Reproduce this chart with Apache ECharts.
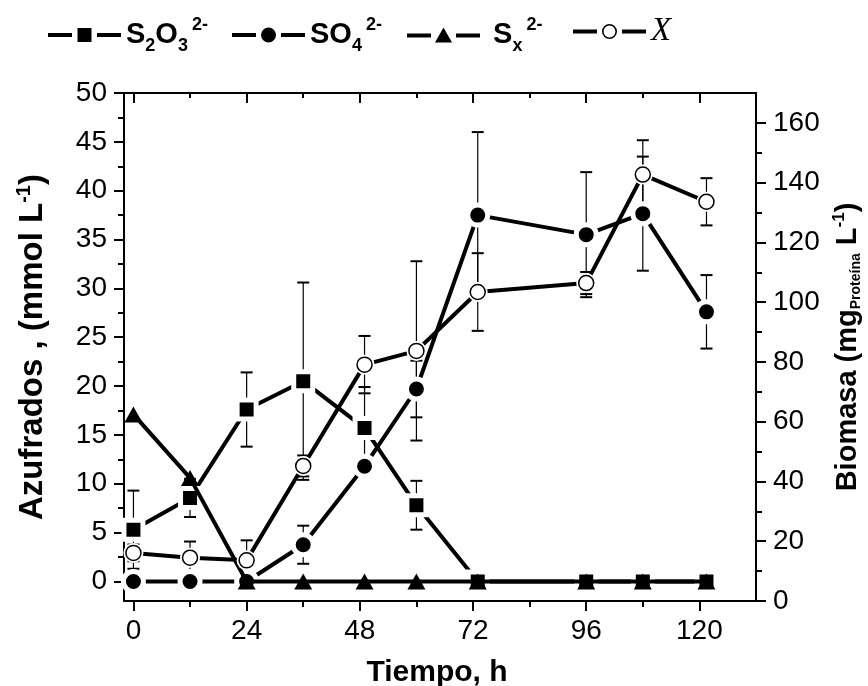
<!DOCTYPE html>
<html>
<head>
<meta charset="utf-8">
<script src="https://cdn.jsdelivr.net/npm/echarts@6/dist/echarts.min.js"></script>
<style>html,body{margin:0;padding:0;background:#fff}#c{width:868px;height:686px}</style>
</head>
<body>
<div id="c"></div>
<script>
// ---- data ----
var timeH = [0, 12, 24, 36, 49, 60, 73, 96, 108, 121.5];
var s2o3 = [5.3, 8.55, 17.6, 20.5, 15.7, 7.8, 0, 0, 0, 0];
var s2o3Err = [4.0, 1.95, 3.8, 10.1, 4.2, 2.5, 0, 0, 0, 0];
var so4 = [0, 0, 0, 3.76, 11.8, 19.7, 37.5, 35.5, 37.65, 27.6];
var so4Err = [0, 0, 0, 1.95, 0.5, 2.9, 8.5, 6.4, 5.84, 3.76];
var sx = [17.1, 10.6, 0, 0, 0, 0, 0, 0, 0, 0];
var biomasa = [16.1, 14.5, 13.6, 45.2, 79.1, 83.7, 103.4, 106.4, 142.7, 133.6];
var biomasaErr = [2.8, 5.4, 6.7, 3.5, 9.6, 30, 13, 3.7, 11.5, 7.9];
var xMajor = [0, 24, 48, 72, 96, 120];
var xMinor = [12, 36, 60, 84, 108];
var yLeftMajor = [0, 5, 10, 15, 20, 25, 30, 35, 40, 45, 50];
var yLeftMinor = [2.5, 7.5, 12.5, 17.5, 22.5, 27.5, 32.5, 37.5, 42.5, 47.5];
var yRightMajor = [0, 20, 40, 60, 80, 100, 120, 140, 160];
var yRightMinor = [10, 30, 50, 70, 90, 110, 130, 150];

var FONT = "'Liberation Sans', Arial, sans-serif";
var chart = echarts.init(document.getElementById('c'), null, {renderer: 'canvas'});

function pts(ys) { return timeH.map(function (t, i) { return [t, ys[i]]; }); }
function errData(ys, es) {
  var out = [];
  timeH.forEach(function (t, i) { if (es[i] > 0) out.push([t, ys[i] - es[i], ys[i] + es[i]]); });
  return out;
}
function errSeries(name, ys, es, yIdx) {
  return {
    name: name, type: 'custom', xAxisIndex: 0, yAxisIndex: yIdx, z: 1,
    data: errData(ys, es), encode: {x: 0, y: [1, 2]}, silent: true,
    renderItem: function (params, api) {
      var x = api.value(0), lo = api.coord([x, api.value(1)]), hi = api.coord([x, api.value(2)]);
      var c = 6;
      return {type: 'group', children: [
        {type: 'line', shape: {x1: lo[0], y1: lo[1], x2: hi[0], y2: hi[1]}, style: {stroke: '#000', lineWidth: 1.2}},
        {type: 'line', shape: {x1: hi[0] - c, y1: hi[1], x2: hi[0] + c, y2: hi[1]}, style: {stroke: '#000', lineWidth: 2}},
        {type: 'line', shape: {x1: lo[0] - c, y1: lo[1], x2: lo[0] + c, y2: lo[1]}, style: {stroke: '#000', lineWidth: 2}}
      ]};
    }
  };
}
// line with its own markers; a white border around each marker leaves the small gap the original shows
function lineSeries(name, ys, yIdx, symbol, size, fill, border, z) {
  return {
    name: name, type: 'line', xAxisIndex: 0, yAxisIndex: yIdx, data: pts(ys), z: z,
    symbol: symbol, symbolSize: size, showAllSymbol: true, animation: false,
    lineStyle: {color: '#000', width: 4},
    itemStyle: {color: fill, borderColor: '#fff', borderWidth: border, opacity: 1}
  };
}

var rich = {
  m: {fontFamily: FONT, fontWeight: 'bold', fontSize: 29, color: '#000', lineHeight: 36},
  sub: {fontFamily: FONT, fontWeight: 'bold', fontSize: 18, color: '#000', lineHeight: 18, padding: [22, 0, 0, 0]},
  sup: {fontFamily: FONT, fontWeight: 'bold', fontSize: 18, color: '#000', lineHeight: 18, padding: [0, 0, 20, 4]},
  xi: {fontFamily: "'Liberation Serif', 'Times New Roman', serif", fontStyle: 'italic', fontSize: 33, color: '#000', lineHeight: 36}
};
var labels = {
  'S2O3': '{m|S}{sub|2}{m|O}{sub|3}{sup|2-}',
  'SO4': '{m|SO}{sub|4}{sup|2-}',
  'Sx': '{m| S}{sub|x}{sup|2-}',
  'X': '{xi|X}'
};
var BARS = 'M0,6H24V10H0Z M49,6H73V10H49Z ';
var icons = {
  'S2O3': 'path://' + BARS + 'M29.5,1H43.5V15H29.5Z',
  'SO4': 'path://' + BARS + 'M29,8A7.5,7.5 0 1,0 44,8A7.5,7.5 0 1,0 29,8Z',
  'Sx': 'path://' + BARS + 'M36.5,0L45,15L28,15Z',
  'X': 'path://' + BARS + 'M29,8A7.5,7.5 0 1,1 44,8A7.5,7.5 0 1,1 29,8Z M30.6,8A5.9,5.9 0 1,0 42.4,8A5.9,5.9 0 1,0 30.6,8Z'
};
function legendAt(name, left) {
  return {
    data: [{name: name, icon: icons[name]}], left: left, top: 15, padding: 0,
    itemWidth: 73, itemHeight: 16, itemGap: 0, itemTextGap: 6,
    itemStyle: {color: '#000', borderWidth: 0}, lineStyle: {width: 0},
    selectedMode: false,
    formatter: function (n) { return labels[n]; },
    textStyle: {rich: rich}
  };
}

function tickAxis(pos, min, max, vals, len, inside, showLine) {
  return {
    type: 'value', position: pos, min: min, max: max, gridIndex: 0,
    axisLine: {show: !!showLine, onZero: false, lineStyle: {color: '#000', width: 2}},
    splitLine: {show: false},
    axisTick: {show: true, customValues: vals, length: len, inside: inside, lineStyle: {color: '#000', width: 2}},
    axisLabel: {show: false}
  };
}

var option = {
  animation: false,
  backgroundColor: '#fff',
  grid: {left: 124, right: 112, top: 93, bottom: 85, containLabel: false, outerBoundsMode: 'none'},
  legend: [legendAt('S2O3', 48), legendAt('SO4', 232), legendAt('Sx', 407), legendAt('X', 573)],
  xAxis: [
    {
      type: 'value', position: 'bottom', min: -2, max: 132,
      axisLine: {show: true, onZero: false, lineStyle: {color: '#000', width: 2}},
      axisTick: {show: true, customValues: xMajor, length: 10, lineStyle: {color: '#000', width: 2}},
      axisLabel: {customValues: xMajor, margin: 16, color: '#000', fontSize: 28, fontFamily: FONT},
      splitLine: {show: false},
      name: 'Tiempo, h', nameLocation: 'middle', nameGap: 57,
      nameTextStyle: {fontFamily: FONT, fontWeight: 'bold', fontSize: 30, color: '#000', padding: [0, 6, 0, 0]}
    },
    tickAxis('bottom', -2, 132, xMinor, 6, false),
    tickAxis('top', -2, 132, xMajor, 10, true, true),
    tickAxis('top', -2, 132, xMinor, 5, true)
  ],
  yAxis: [
    {
      type: 'value', position: 'left', min: -2, max: 50,
      axisLine: {show: true, onZero: false, lineStyle: {color: '#000', width: 2}},
      axisTick: {show: true, customValues: yLeftMajor, length: 10, lineStyle: {color: '#000', width: 2}},
      axisLabel: {customValues: yLeftMajor, margin: 17, color: '#000', fontSize: 28, fontFamily: FONT},
      splitLine: {show: false},
      name: '{t|Azufrados , (mmol L}{sup|-1}{t|)}', nameLocation: 'middle', nameRotate: 90, nameGap: 72,
      nameTextStyle: {rich: {
        t: {fontFamily: FONT, fontWeight: 'bold', fontSize: 33, color: '#000', lineHeight: 38},
        sup: {fontFamily: FONT, fontWeight: 'bold', fontSize: 20, color: '#000', lineHeight: 20, padding: [0, 0, 18, 0]}
      }}
    },
    {
      type: 'value', position: 'right', min: 0, max: 170,
      axisLine: {show: true, onZero: false, lineStyle: {color: '#000', width: 2}},
      axisTick: {show: true, customValues: yRightMajor, length: 10, lineStyle: {color: '#000', width: 2}},
      axisLabel: {customValues: yRightMajor, margin: 17, color: '#000', fontSize: 28, fontFamily: FONT},
      splitLine: {show: false},
      name: '{t|Biomasa (mg}{sub|Proteína}{t| L}{sup|-1}{t|)}', nameLocation: 'middle', nameRotate: 90, nameGap: 72,
      nameTextStyle: {rich: {
        t: {fontFamily: FONT, fontWeight: 'bold', fontSize: 29, color: '#000', lineHeight: 36},
        sub: {fontFamily: FONT, fontWeight: 'bold', fontSize: 14, color: '#000', lineHeight: 14, padding: [18, 0, 0, 0]},
        sup: {fontFamily: FONT, fontWeight: 'bold', fontSize: 17, color: '#000', lineHeight: 17, padding: [0, 0, 17, 0]}
      }}
    },
    tickAxis('left', -2, 50, yLeftMinor, 6, false),
    tickAxis('right', 0, 170, yRightMinor, 6, false)
  ],
  series: [
    errSeries('eS2O3', s2o3, s2o3Err, 0),
    errSeries('eSO4', so4, so4Err, 0),
    errSeries('eX', biomasa, biomasaErr, 1),
    lineSeries('S2O3', s2o3, 0, 'rect', 19, '#000', 5, 3),
    lineSeries('SO4', so4, 0, 'circle', 20, '#000', 5, 4),
    lineSeries('Sx', sx, 0, 'triangle', [18, 16], '#000', 0, 5),
    // biomass line: white discs mask the line near each point, open circles drawn on top
    lineSeries('X', biomasa, 1, 'circle', 20, '#fff', 0, 6),
    {
      name: 'Xmark', type: 'scatter', xAxisIndex: 0, yAxisIndex: 1, data: pts(biomasa), z: 7,
      symbol: 'circle', symbolSize: 15, silent: true,
      itemStyle: {color: '#fff', borderColor: '#000', borderWidth: 1.5, opacity: 1}
    }
  ]
};
chart.setOption(option);
</script>
</body>
</html>
